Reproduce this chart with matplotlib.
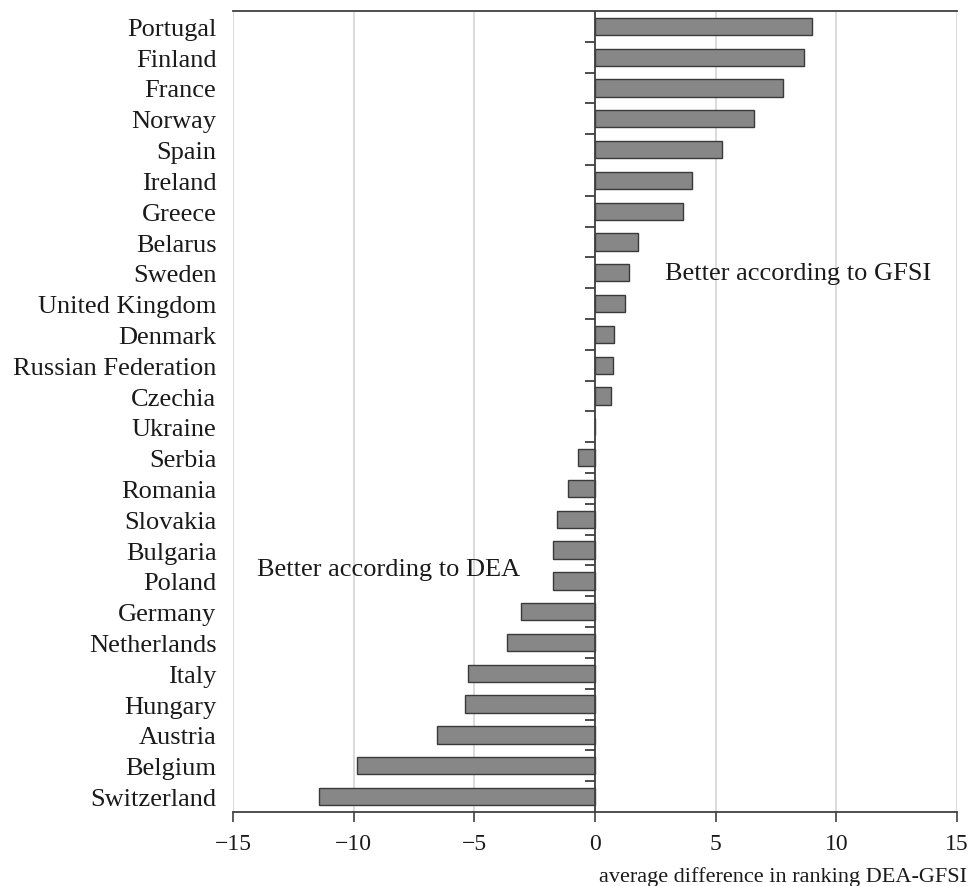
import numpy as np
import matplotlib.pyplot as plt

# countries from top to bottom, with their average ranking difference
countries = ['Portugal', 'Finland', 'France', 'Norway', 'Spain', 'Ireland',
             'Greece', 'Belarus', 'Sweden', 'United Kingdom', 'Denmark',
             'Russian Federation', 'Czechia', 'Ukraine', 'Serbia', 'Romania',
             'Slovakia', 'Bulgaria', 'Poland', 'Germany', 'Netherlands',
             'Italy', 'Hungary', 'Austria', 'Belgium', 'Switzerland']
diff = [9.0, 8.64, 7.8, 6.6, 5.27, 4.02, 3.66, 1.77, 1.4, 1.24, 0.79,
        0.73, 0.66, 0.0, -0.69, -1.13, -1.56, -1.74, -1.74, -3.08, -3.64,
        -5.28, -5.37, -6.55, -9.85, -11.44]
xticks = [-15, -10, -5, 0, 5, 10, 15]

plt.rcParams['font.family'] = ['Liberation Serif', 'DejaVu Serif']
txt = '#1a1a1a'

fig = plt.figure(figsize=(9.69, 8.87), dpi=100)
ax = fig.add_axes([0.2405, 0.0835, 0.7471, 0.903])

n = len(countries)
pos = np.arange(n)
ax.barh(pos, diff, height=0.56, color='#878787', edgecolor='#3a3a3a',
        linewidth=1.0, zorder=3)

ax.set_ylim(n - 0.5, -0.5)
ax.set_xlim(-15, 15)
ax.set_xticks(xticks)
ax.set_yticks(pos)
ax.set_yticklabels(countries, fontsize=19, color=txt)
ax.tick_params(axis='y', length=0, pad=12)
ax.tick_params(axis='x', length=7, width=1.2, color='#404040',
               labelsize=17, labelcolor=txt, pad=8)

# light vertical grid, dark zero line with ticks between the categories
ax.grid(axis='x', color='#d4d4d4', linewidth=1.2, zorder=0)
ax.grid(axis='y', visible=False)
ax.axvline(0, color='#404040', linewidth=1.3, zorder=4)
ax.hlines(pos[:-1] + 0.5, -0.42, 0, color='#404040', linewidth=1.3, zorder=4)

for s in ['left', 'right']:
    ax.spines[s].set_visible(False)
for s in ['top', 'bottom']:
    ax.spines[s].set_color('#404040')
    ax.spines[s].set_linewidth(1.3)

ax.text(2.9, 8.0, 'Better according to GFSI', fontsize=19, color=txt,
        va='center', ha='left', zorder=5)
ax.text(-14.0, 17.6, 'Better according to DEA', fontsize=19, color=txt,
        va='center', ha='left', zorder=5)

ax.set_xlabel('average difference in ranking DEA-GFSI', fontsize=16,
              color=txt)
ax.xaxis.set_label_coords(1.0138, -0.0863)
ax.xaxis.label.set_ha('right')
ax.xaxis.label.set_va('baseline')

fig.savefig('out.png', dpi=100)
